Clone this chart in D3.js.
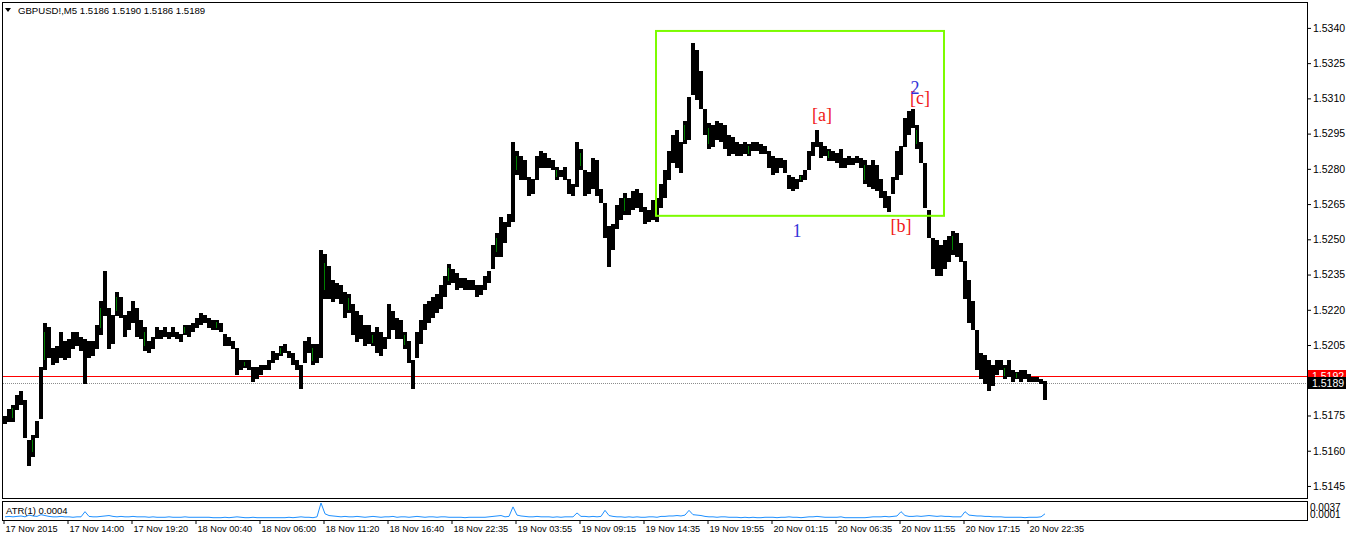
<!DOCTYPE html>
<html><head><meta charset="utf-8">
<script src="https://cdn.jsdelivr.net/npm/d3@7"></script>
<style>
html,body{margin:0;padding:0;background:#fff;}
svg{display:block;}
</style></head>
<body>
<svg id="chart" width="1346" height="538" font-family="Liberation Sans, Arial, sans-serif"></svg>
<script>
// ---- data (GBPUSD!, M5, one sample = 4 bars) ----
const symbolTitle = "GBPUSD!,M5";
const lastOHLC = [1.5186, 1.5190, 1.5186, 1.5189];
const barsPerSample = 4;
const highs = [1.5175,1.5178,1.5180,1.5184,1.5186,1.5182,1.5165,1.5167,1.5173,1.5196,
1.5215,1.5213,1.5204,1.5205,1.5211,1.5207,1.5208,1.5211,1.5211,1.5209,
1.5208,1.5207,1.5207,1.5214,1.5224,1.5237,1.5221,1.5218,1.5228,1.5226,
1.5218,1.5220,1.5224,1.5221,1.5216,1.5213,1.5207,1.5209,1.5213,1.5212,
1.5213,1.5211,1.5213,1.5211,1.5210,1.5214,1.5214,1.5215,1.5217,1.5219,
1.5218,1.5217,1.5216,1.5216,1.5215,1.5210,1.5209,1.5207,1.5204,1.5199,
1.5199,1.5199,1.5196,1.5196,1.5197,1.5197,1.5199,1.5203,1.5202,1.5205,
1.5206,1.5203,1.5202,1.5199,1.5197,1.5207,1.5209,1.5206,1.5206,1.5246,
1.5244,1.5239,1.5233,1.5232,1.5231,1.5228,1.5227,1.5223,1.5220,1.5218,
1.5214,1.5214,1.5211,1.5213,1.5211,1.5209,1.5223,1.5220,1.5217,1.5216,
1.5211,1.5207,1.5199,1.5211,1.5216,1.5223,1.5224,1.5226,1.5227,1.5231,
1.5235,1.5240,1.5238,1.5236,1.5234,1.5234,1.5233,1.5233,1.5231,1.5231,
1.5235,1.5237,1.5248,1.5253,1.5260,1.5258,1.5261,1.5292,1.5288,1.5286,
1.5284,1.5277,1.5276,1.5286,1.5288,1.5287,1.5285,1.5284,1.5281,1.5280,
1.5281,1.5276,1.5274,1.5292,1.5289,1.5280,1.5279,1.5285,1.5284,1.5272,
1.5266,1.5256,1.5257,1.5265,1.5268,1.5270,1.5268,1.5271,1.5272,1.5270,
1.5264,1.5263,1.5267,1.5268,1.5274,1.5280,1.5288,1.5295,1.5297,1.5292,
1.5301,1.5311,1.5334,1.5331,1.5322,1.5306,1.5300,1.5299,1.5301,1.5300,
1.5299,1.5295,1.5294,1.5292,1.5291,1.5292,1.5291,1.5292,1.5292,1.5291,
1.5290,1.5288,1.5286,1.5285,1.5285,1.5284,1.5278,1.5277,1.5276,1.5278,
1.5280,1.5288,1.5292,1.5297,1.5292,1.5290,1.5289,1.5288,1.5287,1.5289,
1.5285,1.5286,1.5285,1.5286,1.5285,1.5284,1.5282,1.5284,1.5282,1.5276,
1.5271,1.5269,1.5277,1.5288,1.5290,1.5302,1.5305,1.5306,1.5299,1.5292,
1.5283,1.5263,1.5251,1.5250,1.5248,1.5250,1.5252,1.5254,1.5253,1.5249,
1.5241,1.5233,1.5224,1.5212,1.5202,1.5201,1.5199,1.5197,1.5199,1.5199,
1.5197,1.5199,1.5195,1.5194,1.5195,1.5195,1.5193,1.5192,1.5192,1.5191,
1.5190];
const lows = [1.5171,1.5172,1.5172,1.5177,1.5179,1.5165,1.5153,1.5157,1.5165,1.5173,
1.5194,1.5199,1.5196,1.5197,1.5199,1.5198,1.5199,1.5203,1.5204,1.5202,
1.5188,1.5199,1.5200,1.5203,1.5209,1.5217,1.5203,1.5205,1.5217,1.5216,
1.5208,1.5211,1.5214,1.5208,1.5207,1.5202,1.5201,1.5203,1.5207,1.5207,
1.5208,1.5207,1.5208,1.5207,1.5206,1.5209,1.5208,1.5210,1.5212,1.5213,
1.5214,1.5212,1.5211,1.5211,1.5210,1.5204,1.5204,1.5203,1.5192,1.5194,
1.5195,1.5194,1.5189,1.5190,1.5192,1.5194,1.5194,1.5197,1.5198,1.5200,
1.5201,1.5199,1.5196,1.5194,1.5186,1.5197,1.5201,1.5196,1.5197,1.5199,
1.5224,1.5224,1.5223,1.5224,1.5222,1.5216,1.5218,1.5209,1.5206,1.5207,
1.5204,1.5205,1.5204,1.5201,1.5200,1.5203,1.5207,1.5211,1.5207,1.5207,
1.5203,1.5197,1.5186,1.5199,1.5205,1.5211,1.5214,1.5216,1.5218,1.5220,
1.5225,1.5230,1.5231,1.5228,1.5229,1.5228,1.5228,1.5228,1.5225,1.5226,
1.5228,1.5231,1.5237,1.5242,1.5242,1.5248,1.5255,1.5257,1.5277,1.5275,
1.5275,1.5268,1.5269,1.5275,1.5280,1.5280,1.5280,1.5279,1.5275,1.5276,
1.5275,1.5269,1.5268,1.5272,1.5279,1.5268,1.5269,1.5271,1.5268,1.5265,
1.5250,1.5238,1.5245,1.5254,1.5258,1.5260,1.5260,1.5262,1.5263,1.5261,
1.5256,1.5257,1.5258,1.5257,1.5263,1.5267,1.5275,1.5282,1.5280,1.5278,
1.5290,1.5292,1.5311,1.5309,1.5305,1.5294,1.5288,1.5289,1.5292,1.5291,
1.5288,1.5285,1.5286,1.5285,1.5285,1.5286,1.5285,1.5287,1.5287,1.5286,
1.5286,1.5280,1.5277,1.5278,1.5280,1.5278,1.5271,1.5270,1.5271,1.5274,
1.5275,1.5279,1.5285,1.5289,1.5284,1.5285,1.5283,1.5283,1.5282,1.5280,
1.5280,1.5281,1.5281,1.5282,1.5280,1.5273,1.5272,1.5271,1.5270,1.5267,
1.5263,1.5261,1.5269,1.5275,1.5277,1.5289,1.5294,1.5297,1.5288,1.5282,
1.5263,1.5250,1.5237,1.5234,1.5234,1.5237,1.5240,1.5243,1.5242,1.5240,
1.5224,1.5214,1.5211,1.5194,1.5190,1.5188,1.5185,1.5187,1.5192,1.5194,
1.5190,1.5191,1.5189,1.5190,1.5189,1.5190,1.5189,1.5189,1.5189,1.5188,
1.5181];
// samples containing visible bullish (green) bars
const greenSamples = [2,7,10,24,28,35,45,53,60,69,77,80,86,92,100,111,123,128,138,144,155,163,170,176,186,199,206,215,228,237,250,253];
// ATR(1) in pips, same sampling
const atrPips = [5,6,5,6,7,5,9,7,6,10, 8,6,5,5,6,5,5,4,5,5, 17,6,5,5,6,7,8,6,5,6,
5,5,6,5,5,5,4,5,4,4, 4,5,4,4,4,5,4,4,4,4, 4,4,3,3,3,4,3,4,5,4,
3,3,4,3,3,3,3,3,3,3, 3,4,3,4,5,4,4,3,5,37, 12,8,7,6,5,6,5,5,6,5,
4,5,6,5,4,5,5,6,4,5, 5,4,5,6,5,4,5,5,4,5, 5,4,4,4,4,3,4,4,4,4,
4,5,6,7,8,5,6,28,9,7, 6,5,5,6,5,5,5,4,5,4, 5,5,5,14,6,6,5,6,5,6,
20,8,6,5,5,4,5,4,5,4, 4,5,5,4,6,6,7,7,8,7, 9,20,10,9,8,6,5,5,4,5,
5,4,4,4,3,4,3,4,3,3, 4,4,4,3,4,4,5,4,4,3, 4,5,5,6,5,4,4,4,4,5,
3,3,3,3,3,3,4,5,5,5, 6,5,6,7,17,8,6,6,7,6, 7,8,7,6,7,6,6,5,5,5,
17,9,8,7,7,6,6,5,5,5, 4,4,4,4,4,3,4,4,4,5, 12];
const atrMax = 0.0037, atrMin = 0.0001, atrCurrent = "0.0004";
const priceTicks = [1.5340,1.5325,1.5310,1.5295,1.5280,1.5265,1.5250,1.5235,1.5220,1.5205,1.5175,1.5160,1.5145];
const timeLabels = ["17 Nov 2015","17 Nov 14:00","17 Nov 19:20","18 Nov 00:40","18 Nov 06:00","18 Nov 11:20",
"18 Nov 16:40","18 Nov 22:35","19 Nov 03:55","19 Nov 09:15","19 Nov 14:35","19 Nov 19:55",
"20 Nov 01:15","20 Nov 06:35","20 Nov 11:55","20 Nov 17:15","20 Nov 22:35"];
const barsPerLabel = 64;
const redLevel = 1.5192, bidLevel = 1.5189;
// annotation box (bar index / price) and wave labels
const box = {bar0: 653, bar1: 941, pLow: 1.5260, pHigh: 1.53387};
const waveLabels = [
  {text:"[a]", bar:819, price:1.53002, color:"#f01818"},
  {text:"[b]", bar:898, price:1.52532, color:"#f01818"},
  {text:"[c]", bar:917, price:1.53077, color:"#f01818"},
  {text:"2",   bar:912, price:1.53117, color:"#3434d8"},
  {text:"1",   bar:794, price:1.52508, color:"#3434d8"}
];

// ---- layout ----
const svg = d3.select("#chart");
const L = 2, R = 1307, T = 2, B = 498;
const aT = 501, aB = 520;
const x = d3.scaleLinear().domain([0, 1040]).range([3, 1043]);
const y = d3.scaleLinear().domain([1.51403, 1.53506]).range([497, 3]);
const ya = d3.scaleLinear().domain([0, atrMax]).range([aB - 1, aT + 2]);

svg.append("rect").attr("width",1346).attr("height",538).attr("fill","#fff");

// frames
svg.append("rect").attr("x",L+0.5).attr("y",T+0.5).attr("width",R-L).attr("height",B-T)
  .attr("fill","none").attr("stroke","#000").attr("stroke-width",1);
svg.append("rect").attr("x",L+0.5).attr("y",aT+0.5).attr("width",R-L).attr("height",aB-aT)
  .attr("fill","none").attr("stroke","#000").attr("stroke-width",1);

// price axis
const yAxis = d3.axisRight(y).tickValues(priceTicks).tickFormat(d3.format(".4f")).tickSize(4).tickPadding(2);
const ga = svg.append("g").attr("transform",`translate(${R},0)`).call(yAxis);
ga.select(".domain").remove();
ga.attr("font-family",null);
ga.selectAll("text").attr("font-size",10.5).attr("fill","#000");
ga.selectAll("line").attr("stroke","#000");

// time axis
const tickBars = timeLabels.map((d,i)=>i*barsPerLabel);
const xAxis = d3.axisBottom(x).tickValues(tickBars).tickFormat((d,i)=>timeLabels[i]).tickSize(4).tickPadding(1);
const gx = svg.append("g").attr("transform",`translate(0,${aB})`).call(xAxis);
gx.select(".domain").remove();
gx.attr("font-family",null);
gx.selectAll("line").attr("stroke","#000").attr("transform","translate(0.5,0)");
gx.selectAll("text").attr("text-anchor","start").attr("dx",2)
  .attr("font-size",9.2).attr("fill","#000");

// horizontal level lines
svg.append("line").attr("x1",L+1).attr("x2",R).attr("y1",Math.round(y(redLevel))+0.5).attr("y2",Math.round(y(redLevel))+0.5)
  .attr("stroke","#ff0000").attr("stroke-width",1);
svg.append("line").attr("x1",L+1).attr("x2",R).attr("y1",Math.round(y(bidLevel))+0.5).attr("y2",Math.round(y(bidLevel))+0.5)
  .attr("stroke","#8c8c8c").attr("stroke-width",1).attr("stroke-dasharray","1,1");

// bars
const samples = highs.map((h,i)=>({i, h, l: lows[i], bar: i*barsPerSample}));
function barTop(d){ const t=y(d.h), b=y(d.l); return (b-t>5) ? t+1 : t; }
function barH(d){ const t=y(d.h), b=y(d.l); return Math.max(1, (b-t>5) ? b-t-2 : b-t); }
svg.append("g").attr("shape-rendering","crispEdges").selectAll("rect").data(samples).join("rect")
  .attr("x", d=>x(d.bar)).attr("width", d=>x(d.bar+barsPerSample)-x(d.bar))
  .attr("y", barTop).attr("height", barH)
  .attr("fill","#000");
svg.append("g").attr("shape-rendering","crispEdges").selectAll("rect").data(samples.filter(d=>greenSamples.includes(d.i))).join("rect")
  .attr("x", d=>x(d.bar)+1).attr("width",1)
  .attr("y", d=>barTop(d)+barH(d)*0.2).attr("height", d=>Math.max(1,barH(d)*0.6))
  .attr("fill","#008000");

// annotation box
svg.append("rect").attr("x",x(box.bar0)).attr("y",y(box.pHigh)).attr("width",x(box.bar1)-x(box.bar0))
  .attr("height",y(box.pLow)-y(box.pHigh)).attr("fill","none").attr("stroke","#7cfc00").attr("stroke-width",2);

// wave labels
svg.selectAll("text.wave").data(waveLabels).join("text").attr("class","wave")
  .attr("x",d=>x(d.bar)).attr("y",d=>y(d.price)).attr("text-anchor","middle")
  .style("font-family","'Liberation Serif','Times New Roman',serif").attr("font-size",18)
  .attr("fill",d=>d.color).text(d=>d.text);

// price labels (boxes)
function priceBox(p, fill){
  const yy = Math.round(y(p));
  svg.append("rect").attr("x",R+1).attr("y",yy-6).attr("width",38).attr("height",12).attr("fill",fill);
  svg.append("text").attr("x",R+5).attr("y",yy+4).attr("font-size",10.5).attr("fill","#fff").text(p.toFixed(4));
}
priceBox(redLevel, "#ff0000");
priceBox(bidLevel, "#000000");

// ATR window
const atrLine = d3.line().x((d,i)=>x(i*barsPerSample+2)).y(d=>ya(d/10000));
svg.append("path").datum(atrPips).attr("d",atrLine).attr("fill","none").attr("stroke","#1e90ff").attr("stroke-width",1);
svg.append("text").attr("x",6).attr("y",514).attr("font-size",9.5).attr("fill","#000").text(`ATR(1) ${atrCurrent}`);
svg.append("text").attr("x",R+3).attr("y",511).attr("font-size",10).attr("fill","#000").text(atrMax.toFixed(4));
svg.append("text").attr("x",R+3).attr("y",518).attr("font-size",10).attr("fill","#000").text(atrMin.toFixed(4));

// header
svg.append("path").attr("d","M5,8 L11,8 L8,12 Z").attr("fill","#000");
svg.append("text").attr("x",18).attr("y",14).attr("font-size",9.6).attr("fill","#000")
  .text(`${symbolTitle}  ${lastOHLC.map(v=>v.toFixed(4)).join(" ")}`);
</script>
</body></html>
